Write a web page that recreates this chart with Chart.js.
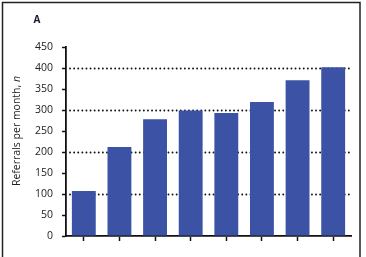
<!DOCTYPE html>
<html>
<head>
<meta charset="utf-8">
<script src="https://cdn.jsdelivr.net/npm/chart.js@4"></script>
<style>
  html, body { margin: 0; padding: 0; background: #fff; }
  #wrap { position: relative; width: 366px; height: 257px; }
</style>
</head>
<body>
<div id="wrap"><canvas id="referralsChart" width="366" height="257"></canvas></div>
<script>
const months = ['1', '2', '3', '4', '5', '6', '7', '8'];
const referrals = [107, 212, 278, 299, 293, 319, 371, 402];
const dottedLevels = [100, 200, 300, 400];

const barBlue = '#3B52A5';
const fontFamily = '"Open Sans", "Liberation Sans", sans-serif';

// dotted reference lines behind the bars, plus panel frame and titles
const extrasPlugin = {
  id: 'extras',
  beforeDatasetsDraw(chart) {
    const ctx = chart.ctx;
    const y = chart.scales.y;
    const area = chart.chartArea;
    ctx.save();
    ctx.strokeStyle = '#111';
    ctx.lineWidth = 1.8;
    ctx.lineCap = 'round';
    ctx.setLineDash([0.1, 4]);
    dottedLevels.forEach(function(v) {
      const py = Math.round(y.getPixelForValue(v)) + 0.5;
      ctx.beginPath();
      ctx.moveTo(area.left + 4, py);
      ctx.lineTo(area.right, py);
      ctx.stroke();
    });
    ctx.restore();
  },
  afterDraw(chart) {
    const ctx = chart.ctx;
    ctx.save();
    // frame
    ctx.strokeStyle = '#222';
    ctx.lineWidth = 1.5;
    ctx.beginPath();
    ctx.moveTo(2.5, 260);
    ctx.lineTo(2.5, 2.5);
    ctx.lineTo(360, 2.5);
    ctx.lineTo(360, 260);
    ctx.stroke();

    // panel letter
    ctx.fillStyle = '#1a1a2e';
    ctx.font = 'bold 10px ' + fontFamily;
    ctx.textAlign = 'center';
    ctx.textBaseline = 'middle';
    ctx.fillText('A', 37, 20);

    // y axis title with italic n
    ctx.translate(17, 131);
    ctx.rotate(-Math.PI / 2);
    ctx.fillStyle = '#222';
    const normal = '10.5px ' + fontFamily;
    const italic = 'italic 10.5px ' + fontFamily;
    const part1 = 'Referrals per month, ';
    ctx.font = normal;
    const w1 = ctx.measureText(part1).width;
    ctx.font = italic;
    const w2 = ctx.measureText('n').width;
    const start = -(w1 + w2) / 2;
    ctx.textAlign = 'left';
    ctx.font = normal;
    ctx.fillText(part1, start, 0);
    ctx.font = italic;
    ctx.fillText('n', start + w1, 0);
    ctx.restore();
  }
};

new Chart(document.getElementById('referralsChart').getContext('2d'), {
  type: 'bar',
  data: {
    labels: months,
    datasets: [{
      data: referrals,
      backgroundColor: barBlue,
      borderWidth: 0,
      categoryPercentage: 1,
      barPercentage: 0.67
    }]
  },
  options: {
    responsive: false,
    animation: false,
    devicePixelRatio: 1,
    layout: {
      padding: { left: 0, top: 47, right: 15, bottom: 0 }
    },
    plugins: {
      legend: { display: false },
      tooltip: { enabled: false }
    },
    scales: {
      x: {
        grid: {
          offset: false,
          drawOnChartArea: false,
          drawTicks: true,
          tickLength: 5,
          tickColor: '#111',
          tickWidth: 1.5
        },
        border: { display: true, color: '#111', width: 1.8 },
        ticks: { display: false },
        afterFit: function(scale) { scale.height = 21; }
      },
      y: {
        min: 0,
        max: 450,
        grid: {
          drawOnChartArea: false,
          drawTicks: true,
          tickLength: 4,
          tickColor: '#111',
          tickWidth: 1.5
        },
        border: { display: true, color: '#111', width: 1.8 },
        ticks: {
          stepSize: 50,
          padding: 9,
          color: '#222',
          font: { family: fontFamily, size: 10.5 }
        },
        afterFit: function(scale) { scale.width = 66; }
      }
    }
  },
  plugins: [extrasPlugin]
});
</script>
</body>
</html>
